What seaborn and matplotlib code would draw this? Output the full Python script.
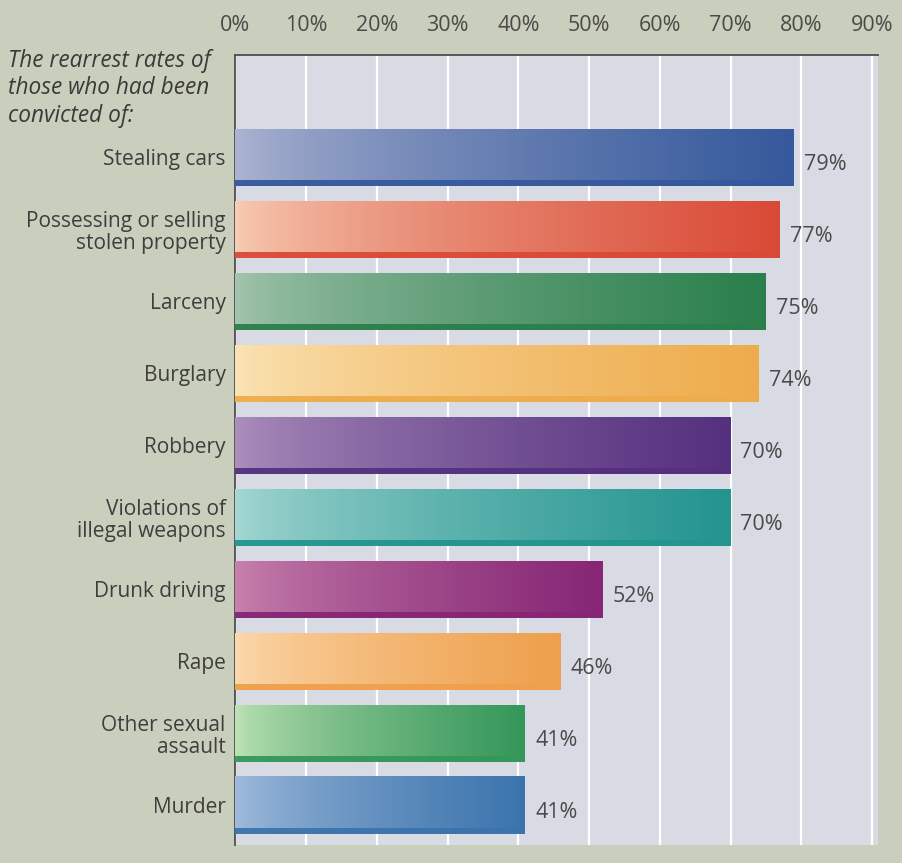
import numpy as np
import pandas as pd
import matplotlib
matplotlib.use("Agg")
import matplotlib.pyplot as plt
import seaborn as sns
from matplotlib.colors import LinearSegmentedColormap
from matplotlib.patches import Rectangle

categories = ["Stealing cars", "Possessing or selling\nstolen property", "Larceny", "Burglary",
              "Robbery", "Violations of\nillegal weapons", "Drunk driving", "Rape",
              "Other sexual\nassault", "Murder"]
rates = [79, 77, 75, 74, 70, 70, 52, 46, 41, 41]
tick_values = [0, 10, 20, 30, 40, 50, 60, 70, 80, 90]
tick_labels = ["0%", "10%", "20%", "30%", "40%", "50%", "60%", "70%", "80%", "90%"]
light_colors = ["#aeb5d2", "#f8cdb4", "#a3c5ae", "#fbe4b6", "#ac90bd", "#a6d8d4", "#c983ae", "#fcd9ae", "#bfe3b6", "#a2bcdc"]
dark_colors = ["#35599c", "#d94a36", "#2a7f4c", "#eeac4c", "#55307f", "#23948f", "#862675", "#eea04c", "#35975a", "#3b74ad"]

sns.set_theme(style="white")
plt.rcParams['font.family'] = ['Open Sans', 'DejaVu Sans']

fig = plt.figure(figsize=(9.02, 8.63), dpi=100, facecolor="#c9cfbc")
ax = fig.add_axes([0.261, 0.021, 0.712, 0.915])
ax.set_facecolor("#d9dbe4")

df = pd.DataFrame({"cat": categories, "rate": rates})
sns.barplot(data=df, y="cat", x="rate", orient="h", ax=ax, width=0.8,
            color="#888888", saturation=1, zorder=2)

ax.set_xlim(0, 90.8)
ax.set_ylim(9.55, -1.42)

for i, p in enumerate(ax.patches):
    x0, y0 = p.get_x(), p.get_y()
    w, h = p.get_width(), p.get_height()
    cmap = LinearSegmentedColormap.from_list("g", [light_colors[i], dark_colors[i]])
    grad = np.linspace(0, 1, 256).reshape(1, -1) ** 0.7
    im = ax.imshow(grad, cmap=cmap, aspect="auto", extent=[x0, x0 + w, y0 + h, y0],
                   zorder=3, interpolation="bicubic")
    im.set_clip_path(p)
    p.set_facecolor("none")
    p.set_edgecolor("none")
    # darker bottom strip for a 3D look
    ax.add_patch(Rectangle((x0, y0 + h - 0.09), w, 0.09, facecolor=dark_colors[i],
                           edgecolor="none", alpha=0.95, zorder=4))
    ax.text(x0 + w + 1.4, y0 + h / 2 + 0.1, f"{rates[i]}%", va="center", ha="left",
            fontsize=15.5, color="#4a4a4a", zorder=5)

ax.xaxis.tick_top()
ax.set_xticks(tick_values)
ax.set_xticklabels(tick_labels, fontsize=15.5, color="#4a4a4a")
ax.tick_params(axis="x", length=0, pad=14)
ax.tick_params(axis="y", length=0, pad=7, labelsize=15, labelcolor="#3e3e3e")
for lab in ax.get_yticklabels():
    lab.set_linespacing(1.05)
ax.set_xlabel("")
ax.set_ylabel("")
ax.grid(axis="x", color="white", linewidth=1.6, zorder=1)
ax.set_axisbelow(True)
for s in ["right", "bottom"]:
    ax.spines[s].set_visible(False)
for s in ["left", "top"]:
    ax.spines[s].set_color("#4d4d4d")
    ax.spines[s].set_linewidth(1.3)

fig.text(0.009, 0.943, "The rearrest rates of\nthose who had been\nconvicted of:",
         ha="left", va="top", fontsize=16.3, style="italic", color="#3a3a3a", linespacing=1.18)

fig.savefig("out.png", dpi=100, facecolor=fig.get_facecolor())
